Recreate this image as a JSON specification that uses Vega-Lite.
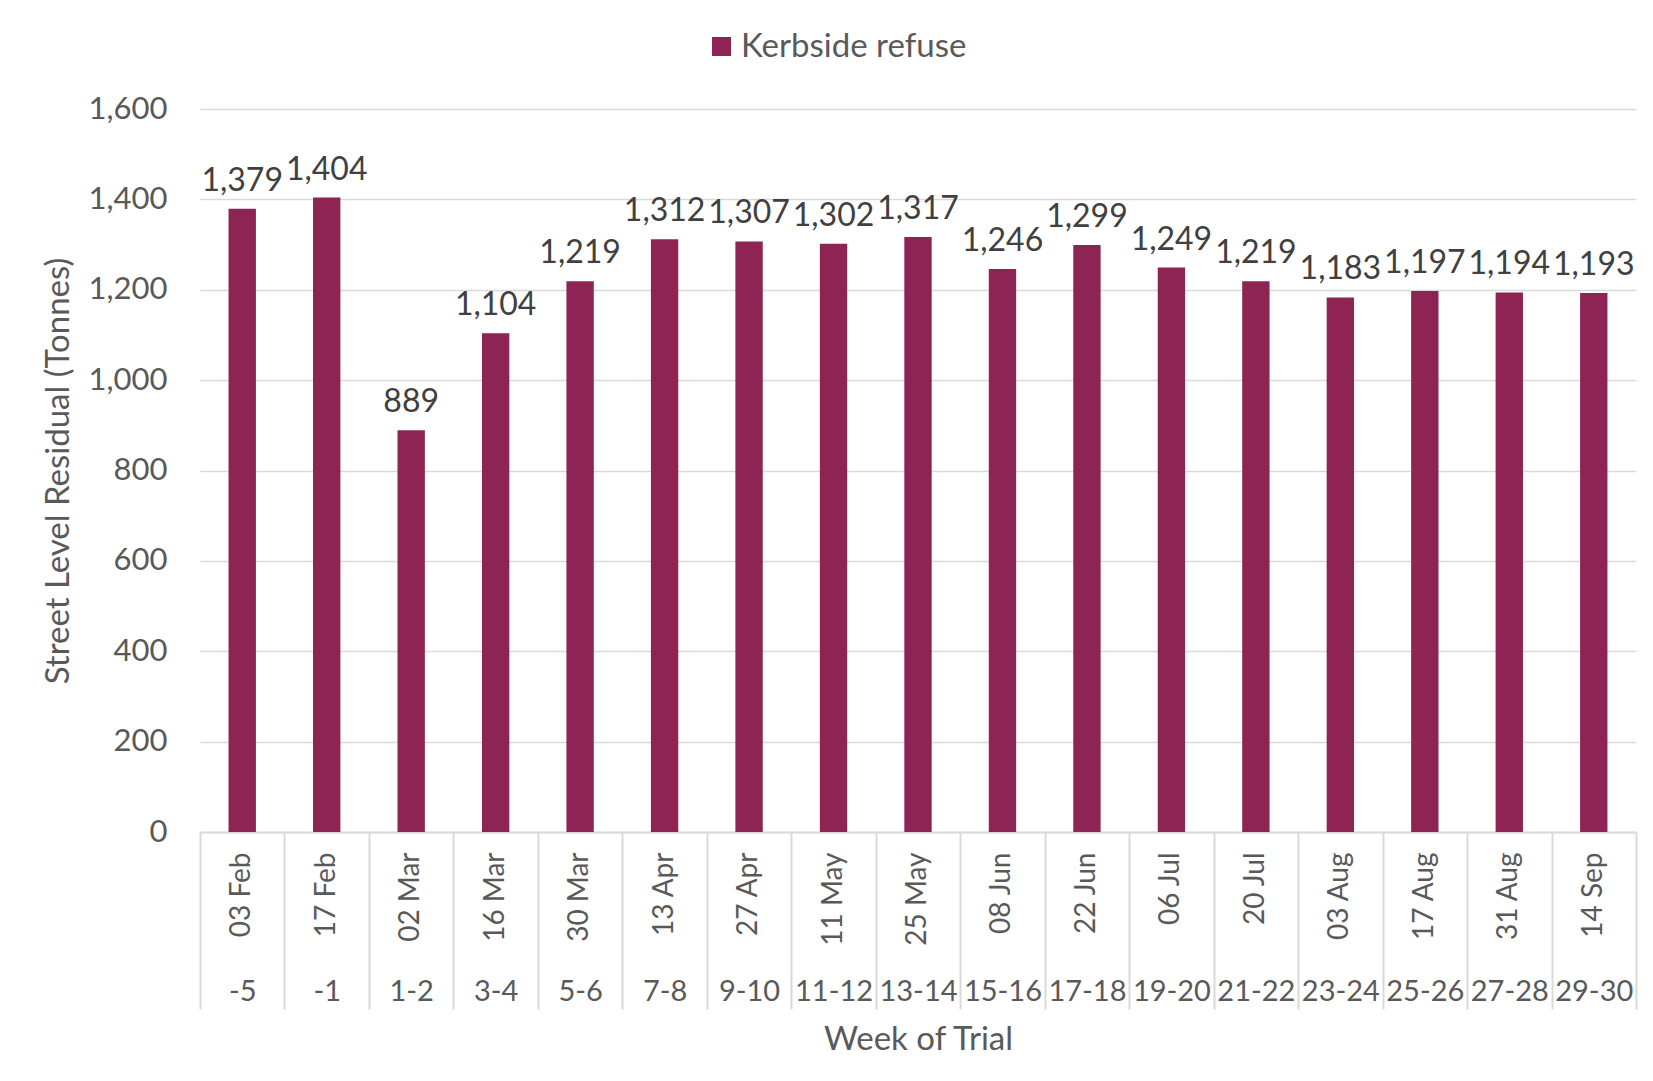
{
  "$schema": "https://vega.github.io/schema/vega-lite/v6.json",
  "width": 1436,
  "height": 723,
  "autosize": {"type": "none"},
  "padding": {"left": 200, "top": 109, "right": 17, "bottom": 249},
  "background": "white",
  "config": {"font": "Lato", "view": {"stroke": null}},
  "data": {
    "values": [
      {"date": "03 Feb", "week": "-5", "value": 1379, "series": "Kerbside refuse"},
      {"date": "17 Feb", "week": "-1", "value": 1404, "series": "Kerbside refuse"},
      {"date": "02 Mar", "week": "1-2", "value": 889, "series": "Kerbside refuse"},
      {"date": "16 Mar", "week": "3-4", "value": 1104, "series": "Kerbside refuse"},
      {"date": "30 Mar", "week": "5-6", "value": 1219, "series": "Kerbside refuse"},
      {"date": "13 Apr", "week": "7-8", "value": 1312, "series": "Kerbside refuse"},
      {"date": "27 Apr", "week": "9-10", "value": 1307, "series": "Kerbside refuse"},
      {"date": "11 May", "week": "11-12", "value": 1302, "series": "Kerbside refuse"},
      {"date": "25 May", "week": "13-14", "value": 1317, "series": "Kerbside refuse"},
      {"date": "08 Jun", "week": "15-16", "value": 1246, "series": "Kerbside refuse"},
      {"date": "22 Jun", "week": "17-18", "value": 1299, "series": "Kerbside refuse"},
      {"date": "06 Jul", "week": "19-20", "value": 1249, "series": "Kerbside refuse"},
      {"date": "20 Jul", "week": "21-22", "value": 1219, "series": "Kerbside refuse"},
      {"date": "03 Aug", "week": "23-24", "value": 1183, "series": "Kerbside refuse"},
      {"date": "17 Aug", "week": "25-26", "value": 1197, "series": "Kerbside refuse"},
      {"date": "31 Aug", "week": "27-28", "value": 1194, "series": "Kerbside refuse"},
      {"date": "14 Sep", "week": "29-30", "value": 1193, "series": "Kerbside refuse"}
    ]
  },
  "layer": [
    {
      "mark": {"type": "bar"},
      "encoding": {
        "x": {
          "field": "date", "type": "nominal", "sort": null,
          "scale": {"type": "band", "paddingInner": 0.676, "paddingOuter": 0.338},
          "axis": {
            "orient": "bottom", "title": null, "labelAngle": -90, "labelAlign": "right", "labelBaseline": "middle",
            "labelPadding": 20, "ticks": false, "tickSize": 0, "domainColor": "#d9d9d9", "domainWidth": 2,
            "labelFontSize": 28, "labelColor": "#595959", "grid": false, "labelOverlap": false
          }
        },
        "y": {
          "field": "value", "type": "quantitative",
          "scale": {"domain": [0, 1600]},
          "axis": {
            "values": [0, 200, 400, 600, 800, 1000, 1200, 1400, 1600], "format": ",.0f",
            "title": "Street Level Residual (Tonnes)", "grid": true, "gridColor": "#d9d9d9", "gridWidth": 1.5,
            "domain": false, "ticks": false, "labelPadding": 33, "labelFontSize": 31, "labelColor": "#595959",
            "titleFontSize": 33, "titleColor": "#595959", "titleFontWeight": "normal", "titlePadding": 13
          }
        },
        "color": {
          "field": "series", "type": "nominal",
          "scale": {"range": ["#8E2454"]},
          "legend": {
            "title": null, "orient": "none", "legendX": 505, "legendY": -79, "symbolType": "square",
            "symbolSize": 361, "symbolStrokeWidth": 0, "labelFontSize": 33, "labelColor": "#595959", "labelOffset": 3,
            "labelLimit": 400, "direction": "horizontal"
          }
        }
      }
    },
    {
      "mark": {"type": "text", "baseline": "alphabetic", "dy": -18, "fontSize": 32, "color": "#404040"},
      "encoding": {
        "x": {
          "field": "week", "type": "nominal", "sort": null,
          "scale": {"type": "band", "paddingInner": 0, "paddingOuter": 0},
          "axis": {
            "orient": "bottom", "title": "Week of Trial", "tickBand": "extent", "tickSize": 177, "tickColor": "#d9d9d9", "tickWidth": 2,
            "domain": false, "labelAngle": 0, "labelBaseline": "middle", "labelPadding": -18, "labelFontSize": 29,
            "labelColor": "#595959", "titleFontSize": 33, "titleColor": "#595959", "titleFontWeight": "normal",
            "titlePadding": 13, "labelOverlap": false
          }
        },
        "y": {"field": "value", "type": "quantitative"},
        "text": {"field": "value", "type": "quantitative", "format": ","}
      }
    }
  ],
  "resolve": {"scale": {"x": "independent"}}
}
